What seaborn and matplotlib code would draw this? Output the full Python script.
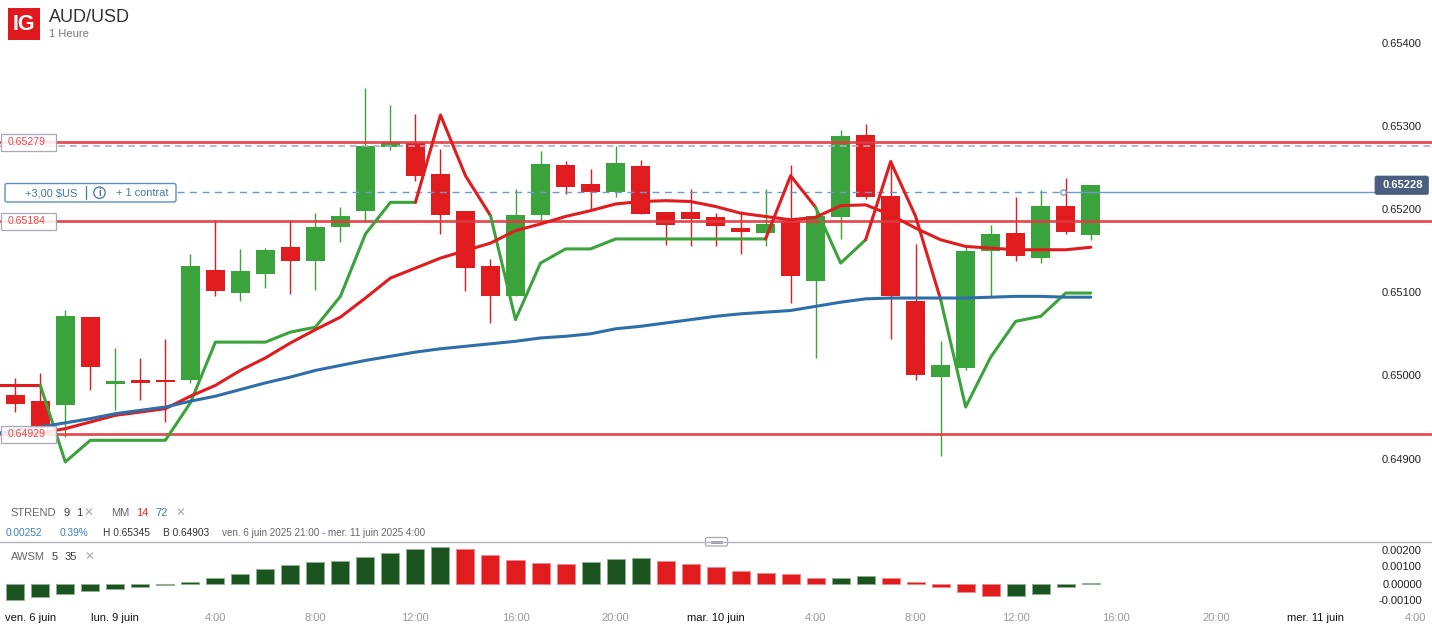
import numpy as np
import pandas as pd
import matplotlib.pyplot as plt
from matplotlib.patches import Rectangle, FancyBboxPatch, Circle
import seaborn as sns

sns.set_style("white")
plt.rcParams['font.family'] = ['Liberation Sans', 'DejaVu Sans']

# hourly candles
opens = [0.64976, 0.64969, 0.64964, 0.65070, 0.64990, 0.64994, 0.64994, 0.64994, 0.65127, 0.65099,
         0.65122, 0.65154, 0.65137, 0.65178, 0.65197, 0.65275, 0.65279, 0.65242, 0.65198, 0.65131,
         0.65096, 0.65193, 0.65253, 0.65230, 0.65220, 0.65252, 0.65196, 0.65196, 0.65190, 0.65177,
         0.65171, 0.65186, 0.65113, 0.65190, 0.65289, 0.65216, 0.65089, 0.64998, 0.65009, 0.65150,
         0.65171, 0.65141, 0.65204, 0.65169]
closes = [0.64966, 0.64939, 0.65071, 0.65010, 0.64993, 0.64991, 0.64992, 0.65131, 0.65101, 0.65125,
          0.65151, 0.65137, 0.65178, 0.65192, 0.65276, 0.65280, 0.65240, 0.65193, 0.65129, 0.65096,
          0.65193, 0.65254, 0.65227, 0.65220, 0.65255, 0.65194, 0.65181, 0.65188, 0.65179, 0.65172,
          0.65182, 0.65120, 0.65192, 0.65288, 0.65214, 0.65095, 0.65000, 0.65013, 0.65150, 0.65170,
          0.65143, 0.65204, 0.65172, 0.65229]
highs = [0.64997, 0.65003, 0.65079, 0.65070, 0.65033, 0.65021, 0.65044, 0.65146, 0.65187, 0.65152,
         0.65153, 0.65187, 0.65195, 0.65202, 0.65345, 0.65325, 0.65314, 0.65272, 0.65198, 0.65140,
         0.65224, 0.65270, 0.65258, 0.65248, 0.65276, 0.65259, 0.65196, 0.65224, 0.65195, 0.65198,
         0.65224, 0.65253, 0.65203, 0.65295, 0.65302, 0.65259, 0.65158, 0.65041, 0.65157, 0.65181,
         0.65214, 0.65223, 0.65237, 0.65229]
lows = [0.64956, 0.64934, 0.64926, 0.64982, 0.64958, 0.64970, 0.64944, 0.64991, 0.65096, 0.65090,
        0.65105, 0.65098, 0.65103, 0.65160, 0.65184, 0.65271, 0.65234, 0.65170, 0.65101, 0.65063,
        0.65096, 0.65185, 0.65218, 0.65199, 0.65214, 0.65194, 0.65157, 0.65156, 0.65156, 0.65146,
        0.65155, 0.65087, 0.65021, 0.65164, 0.65212, 0.65044, 0.64995, 0.64903, 0.65007, 0.65095,
        0.65138, 0.65135, 0.65170, 0.65163]

# supertrend, first point sits one candle left of the chart
trend = [0.64988, 0.64988, 0.64988, 0.64896, 0.64922, 0.64922, 0.64922, 0.64922, 0.64967, 0.65040,
         0.65040, 0.65040, 0.65052, 0.65058, 0.65095, 0.65170, 0.65208, 0.65208, 0.65313, 0.65240,
         0.65192, 0.65067, 0.65135, 0.65152, 0.65152, 0.65164, 0.65164, 0.65164, 0.65164, 0.65164,
         0.65164, 0.65164, 0.65240, 0.65202, 0.65135, 0.65163, 0.65257, 0.65191, 0.65091, 0.64962,
         0.65022, 0.65065, 0.65071, 0.65099, 0.65099]
trend_runs = [(-1, 1, 'down'), (1, 16, 'up'), (16, 19, 'down'), (19, 30, 'up'),
              (30, 32, 'down'), (32, 34, 'up'), (34, 37, 'down'), (37, 43, 'up')]

# MM 14 starts at candle 0
mm14 = [0.64929, 0.64931, 0.64936, 0.64944, 0.64952, 0.64956, 0.64960, 0.64975, 0.64988, 0.65006,
        0.65021, 0.65039, 0.65055, 0.65070, 0.65093, 0.65117, 0.65129, 0.65141, 0.65150, 0.65159,
        0.65174, 0.65182, 0.65191, 0.65198, 0.65206, 0.65209, 0.65210, 0.65209, 0.65203, 0.65195,
        0.65191, 0.65187, 0.65190, 0.65204, 0.65205, 0.65193, 0.65177, 0.65163, 0.65155, 0.65153,
        0.65151, 0.65151, 0.65151, 0.65154]
# MM 72 starts one candle left of the chart
mm72 = [0.64929, 0.64934, 0.64938, 0.64943, 0.64948, 0.64954, 0.64958, 0.64962, 0.64969, 0.64975,
        0.64983, 0.64991, 0.64998, 0.65006, 0.65012, 0.65018, 0.65023, 0.65028, 0.65032, 0.65035,
        0.65038, 0.65041, 0.65045, 0.65047, 0.65050, 0.65056, 0.65059, 0.65063, 0.65067, 0.65071,
        0.65074, 0.65076, 0.65078, 0.65083, 0.65088, 0.65092, 0.65093, 0.65093, 0.65093, 0.65093,
        0.65094, 0.65095, 0.65095, 0.65094, 0.65094]

awsm = [-0.00098, -0.00082, -0.00064, -0.00042, -0.00034, -0.00022, -0.00011, 0.00008, 0.00030, 0.00056,
        0.00083, 0.00109, 0.00125, 0.00131, 0.00154, 0.00179, 0.00201, 0.00213, 0.00201, 0.00166,
        0.00136, 0.00121, 0.00116, 0.00125, 0.00144, 0.00148, 0.00131, 0.00115, 0.00099, 0.00076,
        0.00062, 0.00053, 0.00032, 0.00035, 0.00044, 0.00031, 0.00009, -0.00020, -0.00050, -0.00075,
        -0.00075, -0.00060, -0.00020, 0.00002]
awsm_side = ['g'] * 18 + ['r'] * 5 + ['g'] * 3 + ['r'] * 7 + ['g'] * 2 + ['r'] * 5 + ['g'] * 4

levels = [0.65280, 0.65185, 0.64930]
level_labels = ['0.65279', '0.65184', '0.64929']
order_level = 0.65276
last_price = 0.65220

price_ticks = [0.654, 0.653, 0.652, 0.651, 0.650, 0.649]
price_labels = ['0.65400', '0.65300', '0.65200', '0.65100', '0.65000', '0.64900']
awsm_ticks = [0.002, 0.001, 0.0, -0.001]
awsm_labels = ['0.00200', '0.00100', '0.00000', '-0.00100']
time_ticks = [0.6, 4, 8, 12, 16, 20, 24, 28, 32, 36, 40, 44, 48, 52, 56]
time_labels = ['ven. 6 juin', 'lun. 9 juin', '4:00', '8:00', '12:00', '16:00', '20:00', 'mar. 10 juin',
               '4:00', '8:00', '12:00', '16:00', '20:00', 'mer. 11 juin', '4:00']

GREEN = '#3ba33b'
RED = '#e01c1e'
BLUE = '#2f6ea8'
DARK_GREEN = '#1c541f'
W, H = 1432, 626
STEP = 25.01
X0 = 15.3


def idx(px):
    return (px - X0) / STEP


def price(py):
    return 0.652 + (209 - py) / 83200


fig = plt.figure(figsize=(W / 100, H / 100), dpi=100)
fig.patch.set_facecolor('white')
ax = fig.add_axes([0, 1 - 541 / H, 1, 541 / H])
ax2 = fig.add_axes([0, 0, 1, (H - 542) / H])
ui = fig.add_axes([0, 0, 1, 1], zorder=10)
ui.set_xlim(0, W)
ui.set_ylim(H, 0)
ui.axis('off')
ui.patch.set_alpha(0)

# candles
for i in range(len(opens)):
    col = GREEN if closes[i] >= opens[i] else RED
    ax.vlines(i, lows[i], highs[i], color=col, lw=1.0, zorder=2)
    ax.bar(i, abs(closes[i] - opens[i]), bottom=min(opens[i], closes[i]), width=0.76,
           color=col, linewidth=0, zorder=3)

# indicators
trend_df = pd.DataFrame({'x': np.arange(-1, 44), 'y': trend})
for a, b, side in trend_runs:
    part = trend_df[(trend_df.x >= a) & (trend_df.x <= b)]
    sns.lineplot(data=part, x='x', y='y', color=GREEN if side == 'up' else RED, lw=2.2,
                 errorbar=None, ax=ax, zorder=6)
sns.lineplot(x=np.arange(0, 44), y=mm14, color=RED, lw=2.2, errorbar=None, ax=ax, zorder=7)
sns.lineplot(x=np.arange(-1, 44), y=mm72, color=BLUE, lw=2.2, errorbar=None, ax=ax, zorder=7)

# levels
for lev in levels:
    ax.axhline(lev, color='#e23a40', alpha=0.9, lw=2.0, zorder=5)
ax.axhline(order_level, color='#b5a8c8', lw=1.2, ls=(0, (4, 3)), zorder=5.5)
ax.plot([idx(177), idx(1061)], [last_price, last_price], color='#6c9bcb', lw=1.0, ls=(0, (5, 4)), zorder=4)
ax.plot([idx(1067), idx(1374)], [last_price, last_price], color='#6c9bcb', lw=1.0, zorder=4)

ax.set_xlim(idx(0), idx(W))
ax.set_ylim(price(541), price(0))
ax.set_xlabel('')
ax.set_ylabel('')
ax.set_xticks([])
ax.yaxis.tick_right()
ax.set_yticks(price_ticks, price_labels)
ax.tick_params(axis='y', length=0, pad=-7.2, labelsize=8, labelcolor='#222222')
for t in ax.get_yticklabels():
    t.set_ha('right')

# oscillator
sns.barplot(x=np.arange(len(awsm)), y=awsm, hue=awsm_side, palette={'g': DARK_GREEN, 'r': RED},
            native_scale=True, dodge=False, legend=False, width=0.72, saturation=1, ax=ax2)
for p in ax2.patches:
    p.set_edgecolor('#8fb092' if p.get_facecolor()[1] > p.get_facecolor()[0] else '#f08a8c')
    p.set_linewidth(0.7)
ax2.set_xlim(idx(0), idx(W))
ax2.set_ylim(-42.5 / 17 * 0.001, 41.5 / 17 * 0.001)
ax2.set_xlabel('')
ax2.set_ylabel('')
ax2.yaxis.tick_right()
ax2.set_yticks(awsm_ticks, awsm_labels)
ax2.tick_params(axis='y', length=0, pad=-7.2, labelsize=8, labelcolor='#222222')
for t in ax2.get_yticklabels():
    t.set_ha('right')
ax2.set_xticks(time_ticks, time_labels)
ax2.tick_params(axis='x', length=0, pad=-9.6, labelsize=8)
for t, lab in zip(ax2.get_xticklabels(), time_labels):
    t.set_color('#111111' if 'juin' in lab else '#999999')
sns.despine(ax=ax, left=True, bottom=True, right=True, top=True)
sns.despine(ax=ax2, left=True, bottom=True, right=True, top=True)

# header
ui.add_patch(Rectangle((8, 8), 32, 32, color='#e0191f', lw=0))
ui.text(24, 24.5, 'IG', color='white', fontsize=15.5, fontweight='bold', ha='center', va='center')
ui.text(48.5, 17, 'AUD/USD', color='#333333', fontsize=13, va='center')
ui.text(49, 34, '1 Heure', color='#77777f', fontsize=8, va='center')

# level tags
for lab, y0, y1 in zip(level_labels, [133.5, 212.5, 425.5], [151, 230, 443]):
    ui.add_patch(Rectangle((0.5, y0), 55, y1 - y0, facecolor=(1, 1, 1, 0.88), edgecolor='#a9a9b8', lw=0.9))
    ui.text(27, (y0 + y1) / 2, lab, color='#f0474c', fontsize=7.6, ha='center', va='center')

# position box
ui.add_patch(FancyBboxPatch((5, 183.5), 171, 18.5, boxstyle='round,pad=0,rounding_size=2',
                            facecolor='white', edgecolor='#5a8fc0', lw=1))
ui.text(77.5, 193, '+3,00 $US', color='#44789f', fontsize=7.9, ha='right', va='center')
ui.plot([85.5, 85.5], [186, 199], color='#44789f', lw=0.9)
ui.add_patch(Circle((99.5, 192.7), 5.7, facecolor='white', edgecolor='#44789f', lw=0.9))
ui.text(99.5, 193, 'i', color='#44789f', fontsize=7, fontweight='bold', ha='center', va='center')
ui.text(116, 193, '+ 1 contrat', color='#44789f', fontsize=7.9, va='center')
ui.add_patch(Circle((1063.5, 192.5), 2.7, facecolor='white', edgecolor='#6c9bcb', lw=0.9))

# last price tag
ui.add_patch(FancyBboxPatch((1375, 176), 53.5, 18.5, boxstyle='round,pad=0,rounding_size=2',
                            facecolor='#4a5f80', edgecolor='#4a5f80', lw=0.5))
ui.text(1402.5, 185.5, '0.65228', color='white', fontsize=8, fontweight='bold', ha='center', va='center')

# indicator legends
GREY = '#66666e'
DARK = '#3a3a3a'
XCOL = '#a8a8ae'
ui.text(10.5, 513, 'STREND', color=GREY, fontsize=8, va='center')
ui.text(63, 513, '9', color=DARK, fontsize=8, va='center')
ui.text(76.5, 513, '1', color=DARK, fontsize=8, va='center')
ui.text(88.5, 514, '✕', color=XCOL, fontsize=8.5, fontweight='bold', ha='center', va='center')
ui.text(111, 513, 'MM', color=GREY, fontsize=8, va='center')
ui.text(136.5, 513, '14', color='#e8262a', fontsize=8, va='center')
ui.text(155.5, 513, '72', color='#3a78b5', fontsize=8, va='center')
ui.text(180.5, 514, '✕', color=XCOL, fontsize=8.5, fontweight='bold', ha='center', va='center')

ui.text(5.5, 533, '0.00252', color='#3a7fc0', fontsize=7.3, va='center')
ui.text(59.5, 533, '0.39%', color='#3a7fc0', fontsize=7.3, va='center')
ui.text(103, 533, 'H 0.65345', color='#333333', fontsize=7.3, va='center')
ui.text(163, 533, 'B 0.64903', color='#333333', fontsize=7.3, va='center')
ui.text(222, 533, 'ven. 6 juin 2025 21:00 - mer. 11 juin 2025 4:00', color='#66666e', fontsize=7.15, va='center')

ui.plot([0, W], [541.5, 541.5], color='#b4b4ba', lw=1)
ui.add_patch(FancyBboxPatch((705.5, 537.5), 22, 8.5, boxstyle='round,pad=0,rounding_size=1.5',
                            facecolor='white', edgecolor='#a8a8b4', lw=0.9))
ui.plot([711, 722], [540.5, 540.5], color='#9a9aa8', lw=0.7)
ui.plot([711, 722], [543, 543], color='#9a9aa8', lw=0.7)

ui.text(10.5, 557, 'AWSM', color=GREY, fontsize=8, va='center')
ui.text(51.5, 557, '5', color=DARK, fontsize=8, va='center')
ui.text(64.5, 557, '35', color=DARK, fontsize=8, va='center')
ui.text(89, 558, '✕', color=XCOL, fontsize=8.5, fontweight='bold', ha='center', va='center')

fig.savefig('out.png', dpi=100)
